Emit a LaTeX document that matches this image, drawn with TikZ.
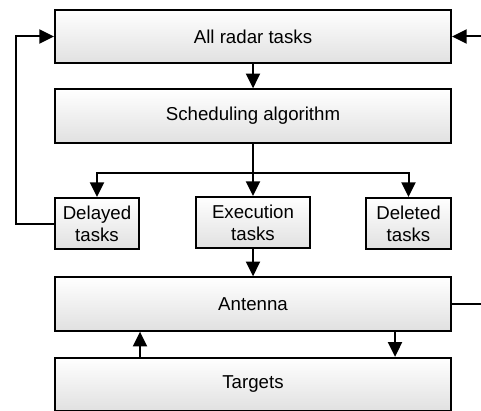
\documentclass[tikz,border=0pt]{standalone}
\usepackage{fontspec}
\setmainfont{Liberation Sans}
\usetikzlibrary{calc,arrows.meta}
\tikzset{
	blockbox/.style={draw=black, line width=1.5pt, top color=white, bottom color=black!12, font=\fontsize{14}{16.5}\selectfont, align=center, inner sep=0pt},
	widebox/.style={blockbox, minimum width=297pt, minimum height=40pt},
	taskbox/.style={blockbox, minimum height=38.25pt},
	arr/.style={line width=1.5pt, -{Triangle[length=11pt,width=10.5pt]}},
	ln/.style={line width=1.5pt}
}

\begin{document}
\begin{tikzpicture}[x=0.75pt,y=-0.75pt]
			%%%%% START %%%%%
			
			\useasboundingbox (0,0) rectangle (481,410);
			
			\node[widebox] (all) at (253, 36.5) {All radar tasks};
			\node[widebox] (sched) at (253, 116) {Scheduling algorithm};
			
			\node[taskbox, minimum width=63pt] (delayed) at (97, 223.5) {Delayed\\tasks};
			\node[taskbox, minimum width=85.5pt] (exec) at (253, 222.5) {Execution\\tasks};
			\node[taskbox, minimum width=63.75pt] (deleted) at (408.5, 223.5) {Deleted\\tasks};
			
			\node[widebox] (antenna) at (253, 304) {Antenna};
			\node[widebox] (targets) at (253, 384.5) {Targets};
			
			\coordinate (inlet) at (481, 36.5);
			\coordinate (outlet) at (481, 304);
			
			\draw[arr] (all) -- (sched);
			\draw[ln] (sched.south) -- ++(0,29) coordinate (split);
			\draw[arr] (split) -| (delayed.north);
			\draw[arr] (split) -- (exec.north);
			\draw[arr] (split) -| (deleted.north);
			
			\draw[arr] (delayed.west) -- ++(-38,0) |- (all.west);
			\draw[arr] (inlet) -- (all.east);
			
			\draw[arr] (exec) -- (antenna);
			\draw[ln] (antenna.east) -- (outlet);
			
			\draw[arr] (targets.north -| delayed.east) -- (antenna.south -| delayed.east);
			\draw[arr] ($(antenna.south)+(142,0)$) -- ($(targets.north)+(142,0)$);
			
			%%%%% END %%%%%
		\end{tikzpicture}
\end{document}
